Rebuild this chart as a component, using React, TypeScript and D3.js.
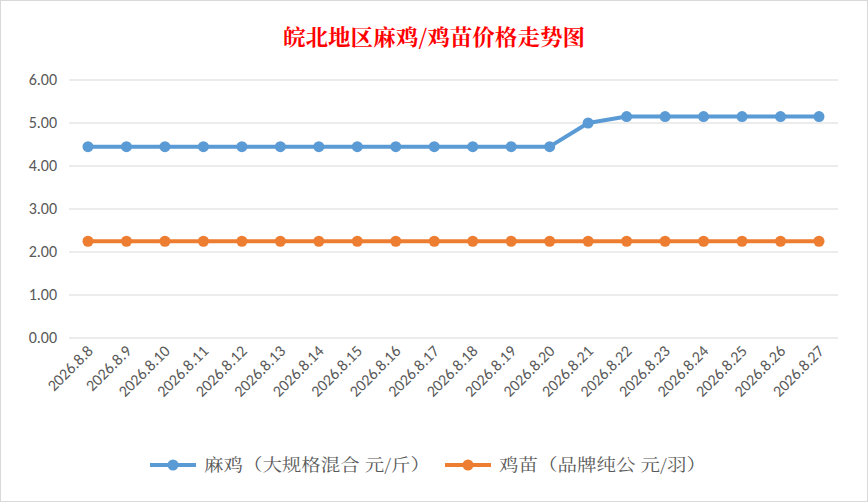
import React from "react";
import * as d3 from "d3";

const dates = ["2026.8.8","2026.8.9","2026.8.10","2026.8.11","2026.8.12","2026.8.13","2026.8.14","2026.8.15","2026.8.16","2026.8.17","2026.8.18","2026.8.19","2026.8.20","2026.8.21","2026.8.22","2026.8.23","2026.8.24","2026.8.25","2026.8.26","2026.8.27"];
const maji = [4.45,4.45,4.45,4.45,4.45,4.45,4.45,4.45,4.45,4.45,4.45,4.45,4.45,5.0,5.15,5.15,5.15,5.15,5.15,5.15];
const jimiao = [2.25,2.25,2.25,2.25,2.25,2.25,2.25,2.25,2.25,2.25,2.25,2.25,2.25,2.25,2.25,2.25,2.25,2.25,2.25,2.25];
const yTicks = [0,1,2,3,4,5,6];
const seriesNames = ["麻鸡（大规格混合 元/斤）","鸡苗（品牌纯公 元/羽）"];
const colors = ["#5B9BD5","#ED7D31"];

export default function App() {
  const W = 868, H = 502;
  const x = d3.scalePoint<string>().domain(dates).range([88, 819]);
  const y = d3.scaleLinear().domain([0, 6]).range([338, 80]);
  const line = d3.line<number>().x((_, i) => x(dates[i])!).y(d => y(d));
  const font = "Calibri, 'Liberation Sans', 'Noto Sans CJK SC', sans-serif";
  const cjkSerif = "'Noto Serif CJK SC','Noto Sans CJK SC',serif";
  return (
    <svg width={W} height={H} style={{ position: "absolute", left: 0, top: 0, background: "#fff" }} fontFamily={font}>
      <rect x={0.5} y={0.5} width={W - 1} height={H - 1} fill="#fff" stroke="#d9d9d9" />
      <text x={434} y={45} textAnchor="middle" fill="#ff0000" fontSize={22} fontWeight="bold" fontFamily={cjkSerif} textLength={302} lengthAdjust="spacingAndGlyphs">皖北地区麻鸡/鸡苗价格走势图</text>
      {yTicks.map(t => (
        <g key={t}>
          <line x1={69} x2={838} y1={y(t)} y2={y(t)} stroke="#d9d9d9" />
          <text x={57} y={y(t) + 5} textAnchor="end" fontSize={16} fill="#595959">{t.toFixed(2)}</text>
        </g>
      ))}
      {dates.map(d => (
        <text key={d} transform={`translate(${x(d)! + 6},${352}) rotate(-45)`} textAnchor="end" fontSize={16} fill="#595959">{d}</text>
      ))}
      {[maji, jimiao].map((s, k) => (
        <g key={k}>
          <path d={line(s)!} fill="none" stroke={colors[k]} strokeWidth={4} strokeLinejoin="round" strokeLinecap="round" />
          {s.map((v, i) => <circle key={i} cx={x(dates[i])} cy={y(v)} r={5.5} fill={colors[k]} />)}
        </g>
      ))}
      {seriesNames.map((n, k) => {
        const lx = k === 0 ? 150 : 445;
        return (
          <g key={n}>
            <line x1={lx} x2={lx + 46} y1={465} y2={465} stroke={colors[k]} strokeWidth={4} />
            <circle cx={lx + 23} cy={465} r={5.5} fill={colors[k]} />
            <text x={lx + 54} y={471} fontSize={17} fill="#595959" fontFamily={cjkSerif} textLength={k === 0 ? 226 : 207} lengthAdjust="spacingAndGlyphs">{n}</text>
          </g>
        );
      })}
    </svg>
  );
}
